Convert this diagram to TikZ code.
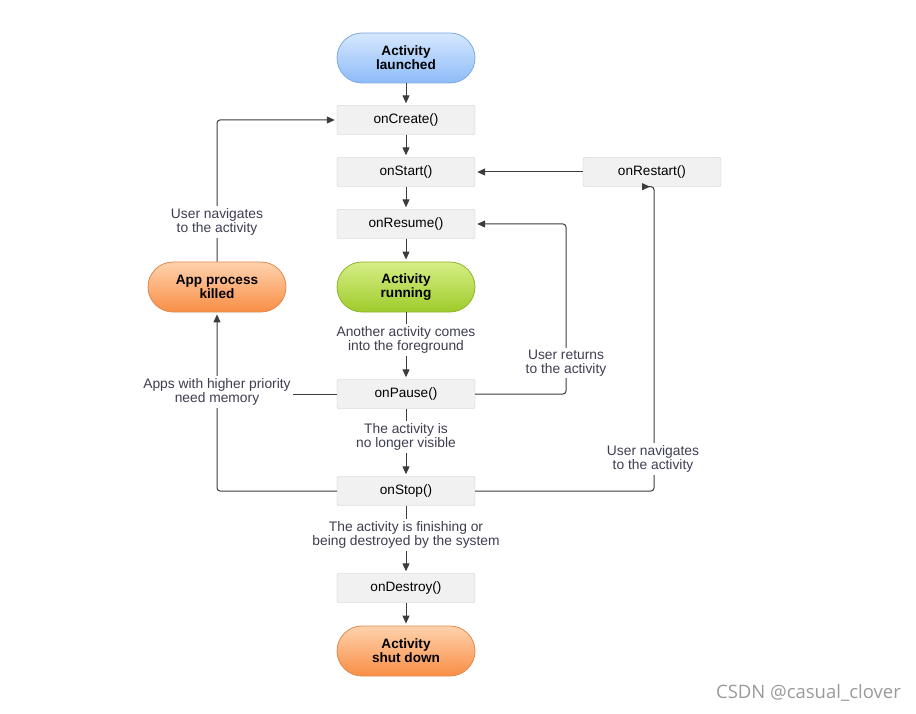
\documentclass[tikz,border=0pt]{standalone}
\usepackage{fontspec}
\setmainfont{Liberation Sans}
\newfontfamily\wmfont{Open Sans}
\usetikzlibrary{arrows.meta}
\definecolor{boxfill}{HTML}{F1F1F1}
\definecolor{boxdraw}{HTML}{C6C6C6}
\definecolor{linecol}{HTML}{3C3C3C}
\definecolor{lblcol}{HTML}{3E3E52}
\definecolor{bluetop}{HTML}{D6E8FF}
\definecolor{bluebot}{HTML}{8DBBF7}
\definecolor{bluedraw}{HTML}{7FA9E3}
\definecolor{greentop}{HTML}{D6EE86}
\definecolor{greenbot}{HTML}{9FCB2A}
\definecolor{greendraw}{HTML}{8DB52C}
\definecolor{orangetop}{HTML}{FFD2AE}
\definecolor{orangebot}{HTML}{F88E45}
\definecolor{orangedraw}{HTML}{DF8A4E}
\definecolor{wmcol}{HTML}{9A9A9A}
\begin{document}
\begin{tikzpicture}[x=1pt,y=-1pt,
  box/.style={draw=boxdraw, fill=boxfill, rounded corners=2pt, minimum width=138pt, minimum height=29pt, inner sep=0pt, font=\fontsize{13.6}{15}\selectfont},
  pill/.style={rounded corners=25pt, minimum width=138pt, minimum height=50pt, inner sep=0pt, align=center, line width=0.8pt, font=\bfseries\fontsize{13.6}{14.2}\selectfont},
  bluepill/.style={pill, draw=bluedraw, top color=bluetop, bottom color=bluebot},
  greenpill/.style={pill, draw=greendraw, top color=greentop, bottom color=greenbot},
  orangepill/.style={pill, draw=orangedraw, top color=orangetop, bottom color=orangebot},
  lbl/.style={fill=white, align=center, text=lblcol, inner sep=2pt, font=\fontsize{13.8}{14.4}\selectfont},
  conn/.style={draw=linecol, line width=1pt, rounded corners=3pt, -{Triangle[length=8pt,width=7pt]}, shorten >=2pt},
  plainline/.style={draw=linecol, line width=1pt, rounded corners=3pt}]
\useasboundingbox (0,0) rectangle (916,714);

% main column
\node[bluepill] (launched) at (406,58) {Activity\\launched};
\node[box] (create) at (406,120) {onCreate()};
\node[box] (start) at (406,172) {onStart()};
\node[box] (resume) at (406,224) {onResume()};
\node[greenpill] (running) at (406,287) {Activity\\running};
\node[box] (pause) at (406,394) {onPause()};
\node[box] (stop) at (406,491) {onStop()};
\node[box] (destroy) at (406,588) {onDestroy()};
\node[orangepill] (shutdown) at (406,651) {Activity\\shut down};
\node[box] (restart) at (652,172) {onRestart()};
\node[orangepill] (killed) at (217,287) {App process\\killed};

\coordinate (cL) at (217,120);
\coordinate (pL) at (217,394);
\coordinate (sL) at (217,491);
\coordinate (pR) at (566,394);
\coordinate (rR) at (566,224);
\coordinate (sR) at (654,491);

% vertical flow
\draw[conn] (launched) -- (create);
\draw[conn] (create) -- (start);
\draw[conn] (start) -- (resume);
\draw[conn] (resume) -- (running);
\draw[conn] (running) -- (pause);
\draw[conn] (pause) -- (stop);
\draw[conn] (stop) -- (destroy);
\draw[conn] (destroy) -- (shutdown);

% side loops
\draw[conn] (restart) -- (start);
\draw[conn] (pause.east) -- (pR) -- (rR) -- (resume.east);
\draw[conn] (stop.east) -- (sR) -- (sR |- restart.south) -- (restart.south);
\draw[plainline] (pause.west) -- (pL);
\draw[conn] (stop.west) -- (sL) -- (killed.south);
\draw[conn] (killed.north) -- (cL) -- (create.west);

% labels
\node[lbl] (l1) at (406,340) {Another activity comes\\into the foreground};
\node[lbl] (l2) at (406,437) {The activity is\\no longer visible};
\node[lbl] (l3) at (406,535) {The activity is finishing or\\being destroyed by the system};
\node[lbl] (l4) at (566,363) {User returns\\to the activity};
\node[lbl] (l5) at (653,459) {User navigates\\to the activity};
\node[lbl] (l6) at (217,392) {Apps with higher priority\\need memory};
\node[lbl] (l7) at (217,222) {User navigates\\to the activity};

% watermark
\node[anchor=east, text=wmcol, inner sep=0pt, font=\wmfont\fontsize{18.5}{20}\selectfont] (wm) at (901,693) {CSDN @casual\_clover};
\end{tikzpicture}
\end{document}
